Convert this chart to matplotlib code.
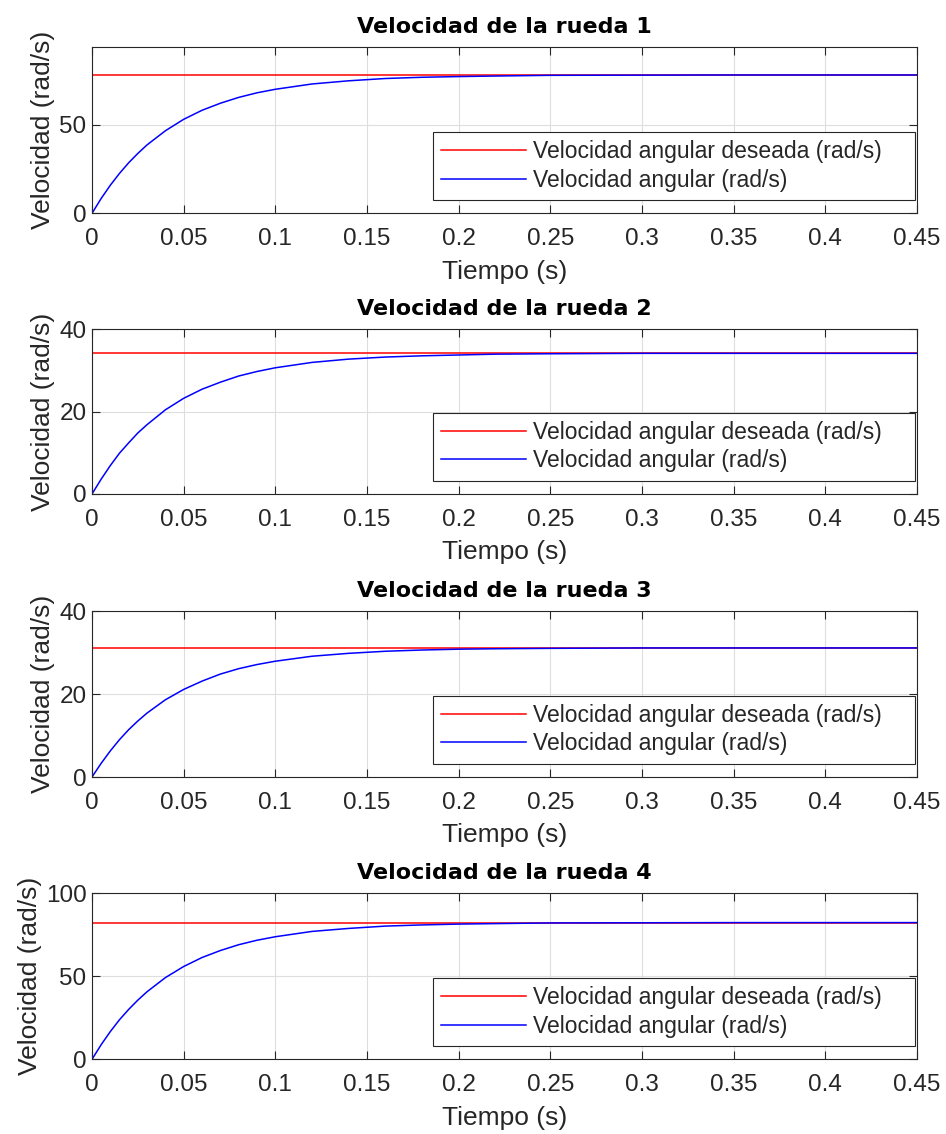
import matplotlib
matplotlib.use("Agg")
import matplotlib.pyplot as plt

plt.rcParams['font.family'] = ['Liberation Sans', 'DejaVu Sans']

# tiempo de simulacion (s)
tiempo = [0, 0.005, 0.01, 0.015, 0.02, 0.025, 0.03, 0.04, 0.05, 0.06, 0.07,
          0.08, 0.09, 0.1, 0.12, 0.14, 0.16, 0.18, 0.2, 0.22, 0.25, 0.3,
          0.35, 0.4, 0.45]

# velocidad deseada de cada rueda (rad/s)
deseada = [78.3, 34.1, 31.1, 82.2]

rueda1 = [0, 8.4, 15.9, 22.6, 28.6, 33.9, 38.7, 46.7, 53.2, 58.3, 62.3, 65.6,
          68.2, 70.2, 73.2, 75.0, 76.3, 77.0, 77.4, 77.7, 78.1, 78.2, 78.3,
          78.3, 78.3]
rueda2 = [0, 3.6, 6.9, 9.9, 12.4, 14.8, 16.8, 20.4, 23.2, 25.4, 27.1, 28.6,
          29.7, 30.6, 31.9, 32.7, 33.2, 33.5, 33.7, 33.9, 34.0, 34.1, 34.1,
          34.1, 34.1]
rueda3 = [0, 3.3, 6.3, 9.0, 11.4, 13.5, 15.4, 18.6, 21.1, 23.1, 24.8, 26.1,
          27.1, 27.9, 29.1, 29.8, 30.3, 30.6, 30.8, 30.9, 31.0, 31.1, 31.1,
          31.1, 31.1]
rueda4 = [0, 8.8, 16.7, 23.8, 30.0, 35.6, 40.6, 49.1, 55.8, 61.2, 65.4, 68.9,
          71.6, 73.7, 76.9, 78.7, 80.1, 80.8, 81.3, 81.6, 82.0, 82.1, 82.2,
          82.2, 82.2]
ruedas = [rueda1, rueda2, rueda3, rueda4]

y_max = [94.3, 40, 40, 100]
y_ticks = [[0, 50], [0, 20, 40], [0, 20, 40], [0, 50, 100]]
x_ticks = [0, 0.05, 0.1, 0.15, 0.2, 0.25, 0.3, 0.35, 0.4, 0.45]
x_tick_labels = ['0', '0.05', '0.1', '0.15', '0.2', '0.25', '0.3', '0.35', '0.4', '0.45']

W, H = 946, 1134
fig = plt.figure(figsize=(W / 100, H / 100), dpi=100)
fig.patch.set_facecolor('white')

# limites de los ejes en pixeles (arriba, abajo)
ax_px = [(46.7, 213.3), (329, 494), (611, 777), (893, 1059.3)]
left_px, right_px = 92, 917

txt_color = '#262626'
for i in range(4):
    top, bot = ax_px[i]
    ax = fig.add_axes([left_px / W, 1 - bot / H, (right_px - left_px) / W, (bot - top) / H])
    ax.plot(tiempo, [deseada[i]] * len(tiempo), color='#ff0000', lw=1.1,
            label='Velocidad angular deseada (rad/s)')
    ax.plot(tiempo, ruedas[i], color='#0000ff', lw=1.1,
            label='Velocidad angular (rad/s)')
    ax.set_xlim(0, 0.45)
    ax.set_ylim(0, y_max[i])
    ax.set_xticks(x_ticks)
    ax.set_xticklabels(x_tick_labels)
    ax.set_yticks(y_ticks[i])
    ax.grid(True, color='#dedede', lw=0.8)
    ax.set_axisbelow(True)
    ax.tick_params(direction='in', top=True, right=True, length=6, width=0.8,
                   labelsize=17.5, colors=txt_color)
    ax.tick_params(axis='x', pad=10.5)
    ax.tick_params(axis='y', pad=4)
    for s in ax.spines.values():
        s.set_color(txt_color)
        s.set_linewidth(0.8)
    ax.set_title('Velocidad de la rueda %d' % (i + 1), fontsize=16,
                 family=['DejaVu Sans'], fontweight='bold', color='black', pad=10)
    ax.set_xlabel('Tiempo (s)', fontsize=19, color=txt_color, labelpad=7)
    ax.set_ylabel('Velocidad (rad/s)', fontsize=19, color=txt_color, labelpad=3)
    # caja de la leyenda, mas ancha que su contenido como en MATLAB
    leg_y0 = 13.5 / (bot - top)
    leg = ax.legend(loc='lower left', bbox_to_anchor=(0.4133, leg_y0, 0.5842, 0),
                    mode='expand', borderaxespad=0, fontsize=16.5,
                    handlelength=3.7, handletextpad=0.3, labelspacing=0.25,
                    borderpad=0.35, fancybox=False, framealpha=1,
                    edgecolor=txt_color)
    leg.get_frame().set_linewidth(0.8)
    for t in leg.get_texts():
        t.set_color(txt_color)

fig.savefig('out.png', dpi=100)
